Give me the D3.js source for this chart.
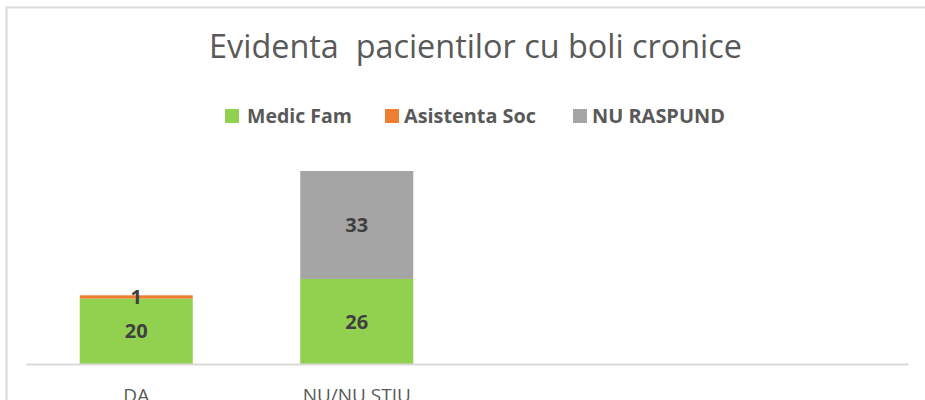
<!DOCTYPE html>
<html>
<head>
<meta charset="utf-8">
<script src="https://cdn.jsdelivr.net/npm/d3@7"></script>
<style>
  body { margin: 0; background: #fff; }
  svg { display: block; font-family: "Open Sans", sans-serif; }
</style>
</head>
<body>
<svg id="chart" width="925" height="400"></svg>
<script>
// chart data
let categories = ["DA", "NU/NU STIU", "", ""];
let seriesNames = ["Medic Fam", "Asistenta Soc", "NU RASPUND"];
let medicFam = [20, 26, null, null];
let asistentaSoc = [1, null, null, null];
let nuRaspund = [null, 33, null, null];
let colors = ["#92d050", "#ed7d31", "#a5a5a5"];

let svg = d3.select("#chart");

// chart area border (runs off the right edge)
svg.append("rect")
    .attr("x", 6.5).attr("y", 7.5)
    .attr("width", 1000).attr("height", 500)
    .attr("fill", "none")
    .attr("stroke", "#d9d9d9")
    .attr("stroke-width", 2);

// fit text into a given width by changing font-size
function fitText(sel, targetWidth) {
  let fs = parseFloat(sel.attr("font-size"));
  let w = sel.node().getComputedTextLength();
  sel.attr("font-size", fs * targetWidth / w);
}

// title
let title = svg.append("text")
    .attr("x", 475.5).attr("y", 58)
    .attr("text-anchor", "middle")
    .attr("font-size", 24)
    .attr("fill", "#595959")
    .style("white-space", "pre")
    .text("Evidenta  pacientilor cu boli cronice");
fitText(title, 533);

// legend
let legendPos = [
  {sq: 225, tx: 247, w: 105},
  {sq: 385, tx: 404, w: 132},
  {sq: 573, tx: 592, w: 133}
];
let legend = svg.append("g");
seriesNames.forEach(function(name, i) {
  legend.append("rect")
      .attr("x", legendPos[i].sq).attr("y", 109)
      .attr("width", 14).attr("height", 14)
      .attr("fill", colors[i]);
  let t = legend.append("text")
      .attr("x", legendPos[i].tx).attr("y", 123)
      .attr("font-size", 18)
      .attr("font-weight", "bold")
      .attr("fill", "#595959")
      .text(name);
  fitText(t, legendPos[i].w);
});

// scales
let x = d3.scaleBand()
    .domain(d3.range(categories.length))
    .range([26, 908])
    .paddingInner(0.4875)
    .paddingOuter(0.24375);
let y = d3.scaleLinear().domain([0, 70]).range([364, 135]);

let rows = categories.map(function(c, i) {
  return {
    "Medic Fam": medicFam[i] || 0,
    "Asistenta Soc": asistentaSoc[i] || 0,
    "NU RASPUND": nuRaspund[i] || 0
  };
});
let raw = [medicFam, asistentaSoc, nuRaspund];
let stacked = d3.stack().keys(seriesNames)(rows);

// bars
let layers = svg.append("g").selectAll("g")
    .data(stacked)
    .enter().append("g")
      .attr("fill", function(d, i) { return colors[i]; });

layers.selectAll("rect")
    .data(function(d) { return d; })
    .enter().append("rect")
      .attr("x", function(d, i) { return x(i); })
      .attr("y", function(d) { return y(d[1]); })
      .attr("width", x.bandwidth())
      .attr("height", function(d) { return y(d[0]) - y(d[1]); });

// x axis
let xAxis = svg.append("g")
    .attr("transform", "translate(0,364)")
    .call(d3.axisBottom(x).tickSize(0).tickFormat(function(i) { return categories[i]; }));
xAxis.select(".domain").attr("stroke", "#d9d9d9").attr("stroke-width", 2);
xAxis.selectAll("text")
    .attr("font-family", "Open Sans, sans-serif")
    .attr("font-size", 19)
    .attr("fill", "#595959")
    .attr("y", 38)
    .attr("dy", 0);

// data labels
stacked.forEach(function(layer, s) {
  svg.append("g").selectAll("text")
      .data(layer.filter(function(d, i) { return raw[s][i] != null; }))
      .enter().append("text")
        .attr("x", function(d) { return x(categories.indexOf(d.data.cat)); })
        .attr("text-anchor", "middle")
        .attr("font-size", 20)
        .attr("font-weight", "bold")
        .attr("fill", "#404040")
        .attr("dy", "0.36em")
        .each(function(d) {
          let i = layer.indexOf(d);
          d3.select(this)
            .attr("x", x(i) + x.bandwidth() / 2)
            .attr("y", (y(d[0]) + y(d[1])) / 2)
            .text(raw[s][i]);
        });
});
</script>
</body>
</html>
